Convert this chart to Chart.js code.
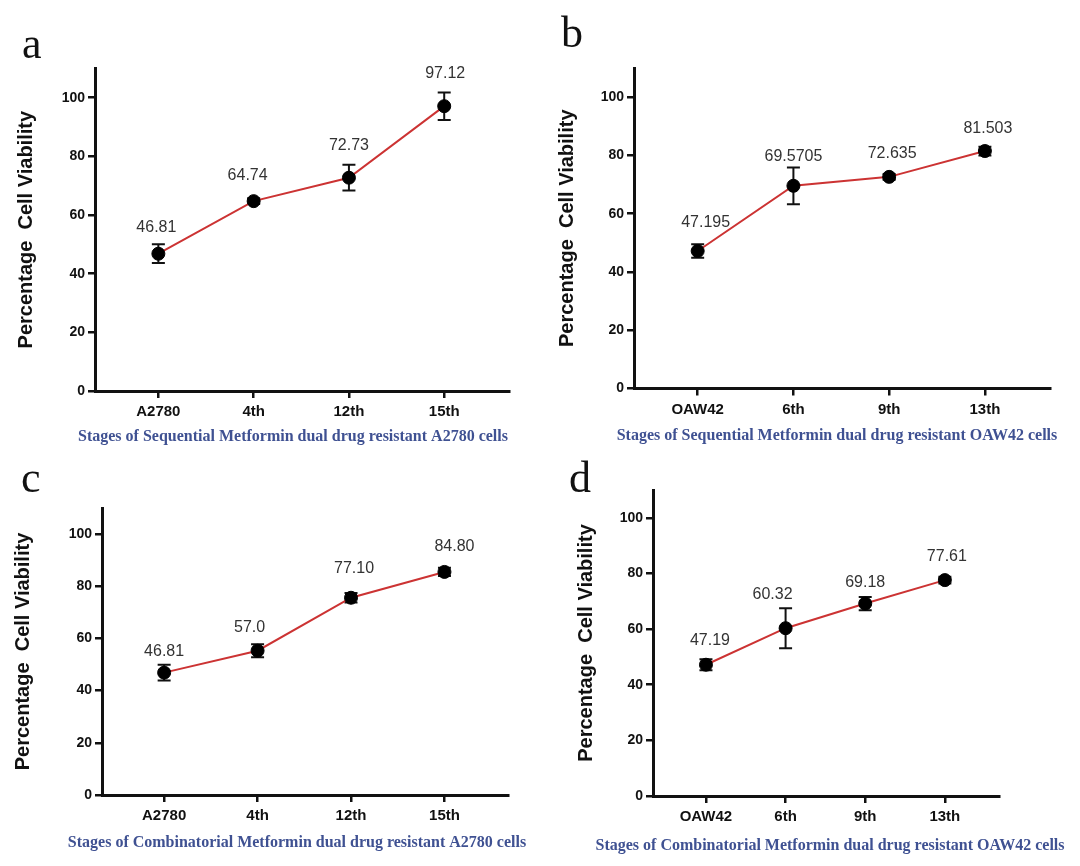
<!DOCTYPE html>
<html>
<head>
<meta charset="utf-8">
<script src="https://cdn.jsdelivr.net/npm/chart.js@4.4.1/dist/chart.umd.min.js"></script>
<style>
  html, body { margin: 0; padding: 0; background: #ffffff; }
  #wrap { position: relative; width: 1080px; height: 866px; overflow: hidden; background: #ffffff; }
  #wrap canvas { position: absolute; left: 0; top: 0; }
</style>
</head>
<body>
<div id="wrap">
  <canvas id="ca" width="1080" height="866"></canvas>
  <canvas id="cb" width="1080" height="866"></canvas>
  <canvas id="cc" width="1080" height="866"></canvas>
  <canvas id="cd" width="1080" height="866"></canvas>
</div>
<script>
// ---------- data ----------
const yTicks = [0, 20, 40, 60, 80, 100];
const yAxisTitle = 'Percentage  Cell Viability';

const a2780Stages = ['A2780', '4th', '12th', '15th'];
const oaw42Stages = ['OAW42', '6th', '9th', '13th'];

// a: Sequential, A2780
const seqA2780Mean = [46.81, 64.74, 72.73, 97.12];
const seqA2780Err  = [3.2, 1.0, 4.4, 4.7];
const seqA2780Text = ['46.81', '64.74', '72.73', '97.12'];
const seqA2780Title = 'Stages of Sequential Metformin dual drug resistant A2780 cells';

// b: Sequential, OAW42
const seqOAW42Mean = [47.195, 69.5705, 72.635, 81.503];
const seqOAW42Err  = [2.3, 6.3, 1.0, 1.5];
const seqOAW42Text = ['47.195', '69.5705', '72.635', '81.503'];
const seqOAW42Title = 'Stages of Sequential Metformin dual drug resistant OAW42 cells';

// c: Combinatorial, A2780
const combA2780Mean = [46.9, 55.3, 75.6, 85.5];
const combA2780Err  = [3.0, 2.5, 1.8, 1.6];
const combA2780Text = ['46.81', '57.0', '77.10', '84.80'];
const combA2780Title = 'Stages of Combinatorial Metformin dual drug resistant A2780 cells';

// d: Combinatorial, OAW42
const combOAW42Mean = [47.19, 60.32, 69.18, 77.61];
const combOAW42Err  = [2.0, 7.2, 2.4, 1.2];
const combOAW42Text = ['47.19', '60.32', '69.18', '77.61'];
const combOAW42Title = 'Stages of Combinatorial Metformin dual drug resistant OAW42 cells';

// ---------- layout (positions / styles) ----------
const PANELS = [
  { canvas: 'ca', letter: 'a', cats: a2780Stages, mean: seqA2780Mean, err: seqA2780Err, text: seqA2780Text, xTitle: seqA2780Title,
    box: { axisX: 95, top: 68.4, bottom: 391, right: 509, yTitleX: 26 },
    labelAt: [55.8, 73.3, 83.8, 108.3], labelDx: [-2, -6, 0, 1],
    letterPos: [22, 58], xTitlePos: [293, 437] },
  { canvas: 'cb', letter: 'b', cats: oaw42Stages, mean: seqOAW42Mean, err: seqOAW42Err, text: seqOAW42Text, xTitle: seqOAW42Title,
    box: { axisX: 634, top: 68, bottom: 388.5, right: 1050, yTitleX: 567 },
    labelAt: [57.0, 79.7, 80.7, 89.3], labelDx: [8, 0, 3, 3],
    letterPos: [561, 47], xTitlePos: [837, 436] },
  { canvas: 'cc', letter: 'c', cats: a2780Stages, mean: combA2780Mean, err: combA2780Err, text: combA2780Text, xTitle: combA2780Title,
    box: { axisX: 102, top: 508, bottom: 795, right: 508, yTitleX: 23 },
    labelAt: [55.1, 64.1, 86.8, 95.3], labelDx: [0, -8, 3, 10],
    letterPos: [21, 492], xTitlePos: [297, 843] },
  { canvas: 'cd', letter: 'd', cats: oaw42Stages, mean: combOAW42Mean, err: combOAW42Err, text: combOAW42Text, xTitle: combOAW42Title,
    box: { axisX: 653, top: 490, bottom: 796, right: 999, yTitleX: 586 },
    labelAt: [55.9, 72.4, 76.6, 86.1], labelDx: [4, -13, 0, 2],
    letterPos: [569, 492], xTitlePos: [830, 846] }
];

const SANS = '"Liberation Sans", Arial, Helvetica, sans-serif';
const SERIF = '"Liberation Serif", "Times New Roman", serif';
const INK = '#111111';
const X_SCALE_H = 40;

function makeExtras(p) {
  return {
    id: 'extras_' + p.letter,
    beforeDatasetsDraw(chart) {
      const { ctx, scales: { x, y } } = chart;
      ctx.save();
      ctx.strokeStyle = INK;
      ctx.lineWidth = 2;
      ctx.lineCap = 'butt';
      p.mean.forEach((m, i) => {
        const px = x.getPixelForValue(i + 1);
        const top = y.getPixelForValue(m + p.err[i]);
        const bot = y.getPixelForValue(m - p.err[i]);
        ctx.beginPath();
        ctx.moveTo(px, top); ctx.lineTo(px, bot);
        ctx.moveTo(px - 6.5, top); ctx.lineTo(px + 6.5, top);
        ctx.moveTo(px - 6.5, bot); ctx.lineTo(px + 6.5, bot);
        ctx.stroke();
      });
      ctx.restore();
    },
    afterDraw(chart) {
      const { ctx, scales: { x, y } } = chart;
      ctx.save();
      // value annotations
      ctx.fillStyle = '#333333';
      ctx.font = '16px ' + SANS;
      ctx.textAlign = 'center';
      ctx.textBaseline = 'middle';
      p.text.forEach((t, i) => {
        ctx.fillText(t, x.getPixelForValue(i + 1) + p.labelDx[i], y.getPixelForValue(p.labelAt[i]));
      });
      // x-axis caption
      ctx.fillStyle = '#3f5192';
      ctx.font = 'bold 16px ' + SERIF;
      ctx.fillText(p.xTitle, p.xTitlePos[0], p.xTitlePos[1]);
      // panel letter
      ctx.fillStyle = '#111111';
      ctx.font = '44px ' + SERIF;
      ctx.textAlign = 'left';
      ctx.textBaseline = 'alphabetic';
      ctx.fillText(p.letter, p.letterPos[0], p.letterPos[1]);
      ctx.restore();
    }
  };
}

PANELS.forEach(p => {
  const b = p.box;
  const leftPad = b.yTitleX - 12;        // title lineHeight 24 -> half 12
  const yWidth = b.axisX - leftPad;
  new Chart(document.getElementById(p.canvas), {
    type: 'line',
    data: {
      datasets: [{
        data: p.mean.map((v, i) => ({ x: i + 1, y: v })),
        borderColor: '#cc3333',
        borderWidth: 2,
        pointRadius: 6.5,
        pointHoverRadius: 6.5,
        pointBackgroundColor: '#000000',
        pointBorderColor: '#000000',
        pointBorderWidth: 1,
        tension: 0,
        fill: false
      }]
    },
    options: {
      responsive: false,
      animation: false,
      devicePixelRatio: 1,
      layout: {
        padding: { left: leftPad, top: b.top, right: 1080 - b.right, bottom: 866 - b.bottom - X_SCALE_H }
      },
      plugins: { legend: { display: false }, tooltip: { enabled: false }, title: { display: false } },
      scales: {
        x: {
          type: 'linear',
          min: 0.335,
          max: 4.68,
          afterBuildTicks: s => { s.ticks = p.cats.map((c, i) => ({ value: i + 1 })); },
          afterFit: s => { s.height = X_SCALE_H; },
          grid: { drawOnChartArea: false, drawTicks: true, tickLength: 7, color: INK, lineWidth: 2.5 },
          border: { display: true, color: INK, width: 3 },
          ticks: {
            color: INK, padding: 5, autoSkip: false, maxRotation: 0,
            font: { family: SANS, size: 15, weight: 'bold' },
            callback: v => p.cats[Math.round(v) - 1]
          }
        },
        y: {
          type: 'linear',
          min: 0,
          max: 110,
          afterBuildTicks: s => { s.ticks = yTicks.map(v => ({ value: v })); },
          afterFit: s => { s.width = yWidth; },
          grid: { drawOnChartArea: false, drawTicks: true, tickLength: 7, color: INK, lineWidth: 2.5 },
          border: { display: true, color: INK, width: 3 },
          ticks: { color: INK, padding: 3, font: { family: SANS, size: 14, weight: 'bold' } },
          title: {
            display: true, text: yAxisTitle, color: INK, padding: { top: 0, bottom: 0 },
            font: { family: SANS, size: 20, weight: 'bold', lineHeight: 1.2 }
          }
        }
      }
    },
    plugins: [makeExtras(p)]
  });
});
</script>
</body>
</html>
